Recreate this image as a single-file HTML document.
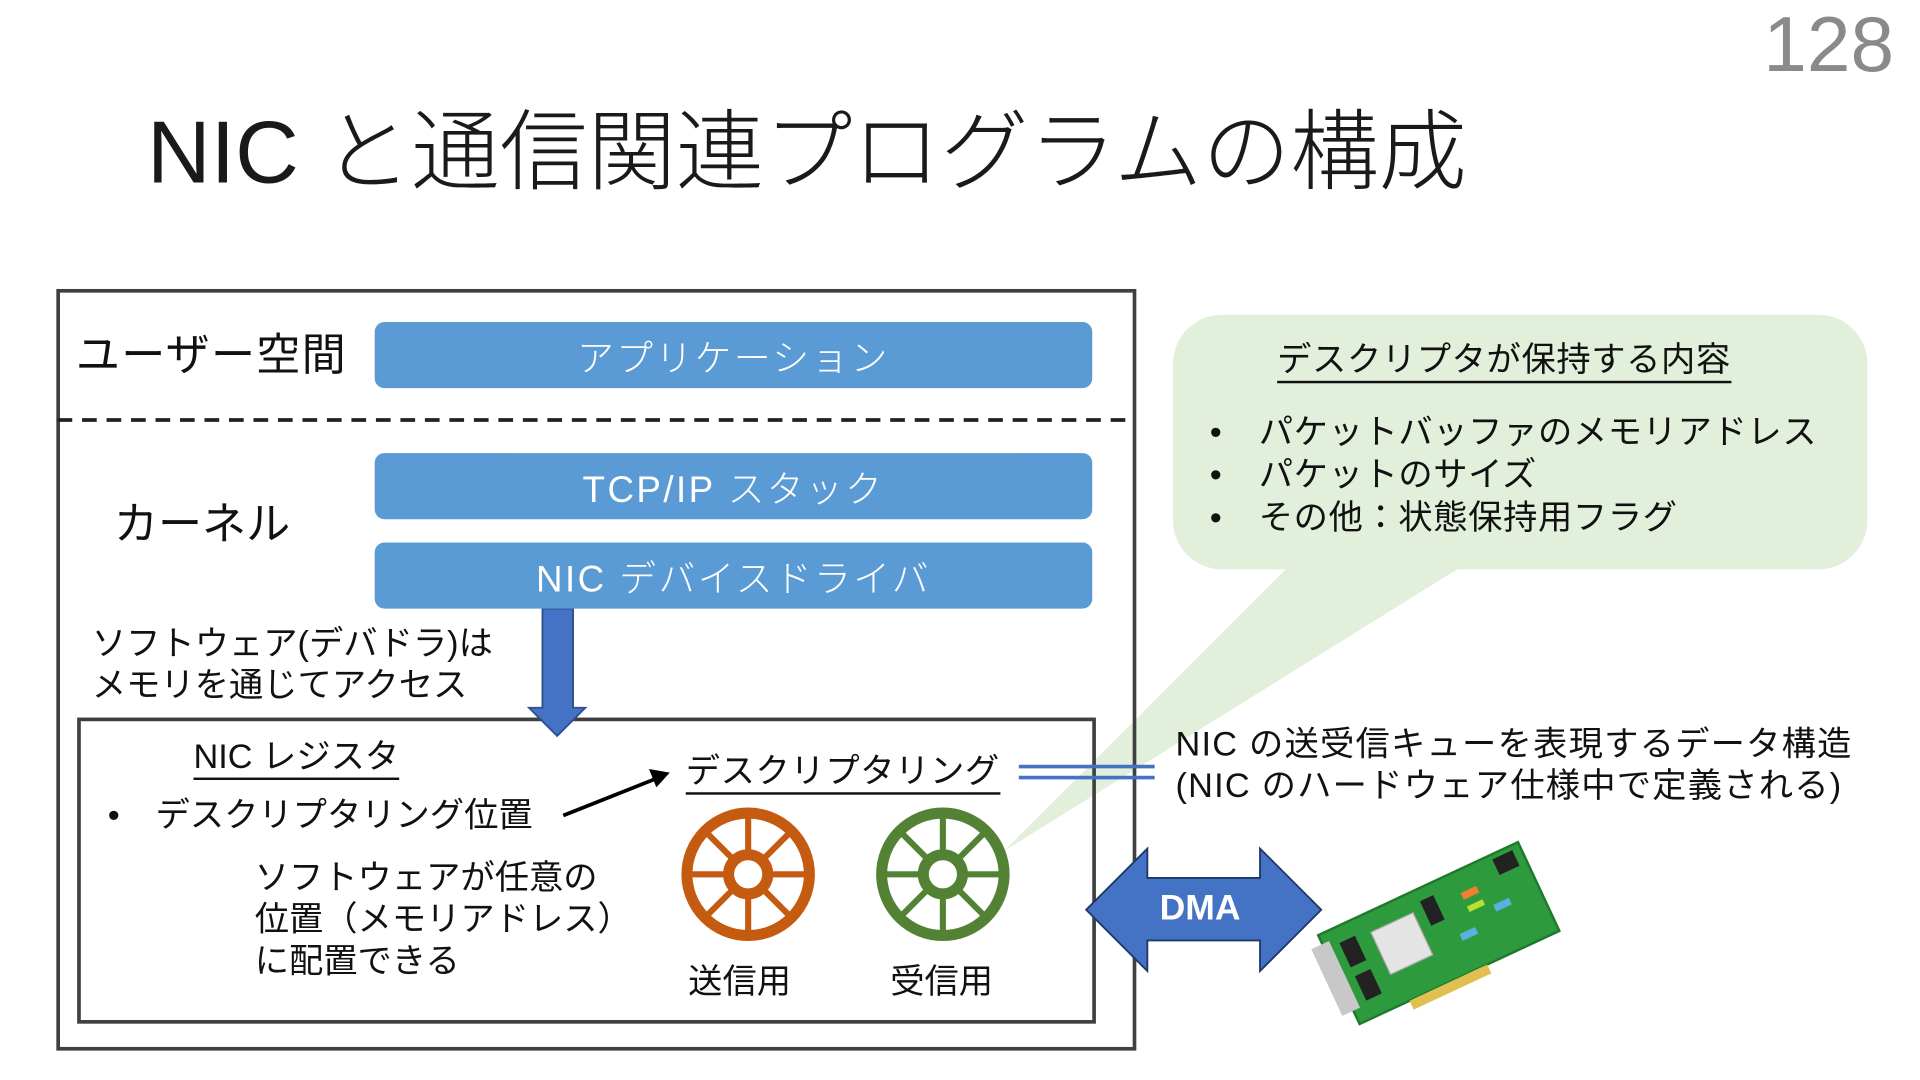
<!DOCTYPE html>
<html><head><meta charset="utf-8">
<style>
html,body{margin:0;padding:0;background:#fff;width:1920px;height:1080px;overflow:hidden}
#s{position:absolute;left:0;top:0;width:1568px;height:882px;transform:scale(1.2245);transform-origin:0 0;font-family:"Liberation Sans","Noto Sans CJK JP",sans-serif;color:#111}
.t{position:absolute;white-space:nowrap;line-height:1}
.box{position:absolute;background:#5b9bd5;border-radius:8px;color:#fff;font-size:30px;display:flex;align-items:center;justify-content:center;letter-spacing:2px;font-weight:300}
u{text-decoration:none;border-bottom:2px solid #111;padding-bottom:2px}
</style></head><body>
<div id="s">
<div class="t" style="left:1440px;top:4px;font-size:64px;color:#8a8a8a;font-weight:300">128</div>
<div class="t" style="left:120px;top:89px;font-size:72px;font-weight:300;color:#1a1a1a">NIC と通信関連プログラムの構成</div>

<svg width="1568" height="882" style="position:absolute;left:0;top:0">
 <path d="M998 257 H1485 A40 40 0 0 1 1525 297 V425 A40 40 0 0 1 1485 465 H1190 L820 695 L1050 465 H998 A40 40 0 0 1 958 425 V297 A40 40 0 0 1 998 257 Z" fill="#e2efda"/>
 <rect x="47.5" y="237.5" width="879" height="619" fill="none" stroke="#404040" stroke-width="3"/>
 <line x1="47" y1="343" x2="927" y2="343" stroke="#222" stroke-width="3" stroke-dasharray="12 8"/>
 <rect x="64.5" y="587.5" width="829" height="247" fill="none" stroke="#404040" stroke-width="3"/>
 <path d="M443 497 H468 V578 H478 L455 601 L432 578 H443 Z" fill="#4472c4" stroke="#2f4f8f" stroke-width="1.5"/>
 <line x1="460" y1="666" x2="538" y2="635" stroke="#000" stroke-width="3"/>
 <path d="M547 631 L530 628 L536 643 Z" fill="#000"/>
 <line x1="832" y1="626" x2="943" y2="626" stroke="#4472c4" stroke-width="3"/>
 <line x1="832" y1="635" x2="943" y2="635" stroke="#4472c4" stroke-width="3"/>
 <g stroke="#c55a11" fill="none" stroke-width="9">
  <circle cx="611" cy="714" r="50"/><circle cx="611" cy="714" r="16"/>
  <g stroke-width="5"><path d="M611 664V698M611 730V764M561 714H595M627 714H661M576 679L600 703M622 725L646 749M646 679L622 703M600 725L576 749"/></g>
 </g>
 <g stroke="#548235" fill="none" stroke-width="9">
  <circle cx="770" cy="714" r="50"/><circle cx="770" cy="714" r="16"/>
  <g stroke-width="5"><path d="M770 664V698M770 730V764M720 714H754M786 714H820M735 679L759 703M781 725L805 749M805 679L781 703M759 725L735 749"/></g>
 </g>
 <path d="M887 743 L937 693 V717 H1029 V693 L1079 743 L1029 793 V768 H937 V793 Z" fill="#4472c4" stroke="#203864" stroke-width="1.5"/>
 <g transform="rotate(-25 1175 762)">
  <rect x="1085" y="722" width="180" height="80" fill="#2e9a3e" stroke="#1e7a2c" stroke-width="2"/>
  <rect x="1075" y="730" width="16" height="60" fill="#c8c8c8"/>
  <rect x="1125" y="738" width="38" height="38" fill="#e4e4e4" stroke="#aaa"/>
  <rect x="1098" y="735" width="14" height="22" fill="#222"/><rect x="1098" y="765" width="14" height="22" fill="#222"/>
  <rect x="1172" y="732" width="12" height="22" fill="#222"/><rect x="1240" y="726" width="18" height="14" fill="#222"/>
  <rect x="1205" y="740" width="14" height="6" fill="#f08030"/><rect x="1205" y="752" width="14" height="5" fill="#b8e030"/>
  <rect x="1225" y="760" width="14" height="6" fill="#5ab0e0"/><rect x="1190" y="770" width="14" height="6" fill="#5ab0e0"/>
  <rect x="1130" y="802" width="70" height="8" fill="#e0c050"/>
 </g>
</svg>

<div class="t" style="left:62px;top:272px;font-size:36px;letter-spacing:1px">ユーザー空間</div>
<div class="box" style="left:306px;top:263px;width:586px;height:54px">アプリケーション</div>
<div class="t" style="left:93px;top:410px;font-size:36px">カーネル</div>
<div class="box" style="left:306px;top:370px;width:586px;height:54px">TCP/IP スタック</div>
<div class="box" style="left:306px;top:443px;width:586px;height:54px">NIC デバイスドライバ</div>
<div class="t" style="left:75px;top:509px;font-size:28px;line-height:34px">ソフトウェア(デバドラ)は<br>メモリを通じてアクセス</div>

<div class="t" style="left:158px;top:604px;font-size:28px"><u>NIC レジスタ</u></div>
<div class="t" style="left:88px;top:652px;font-size:28px">•</div>
<div class="t" style="left:127px;top:652px;font-size:28px">デスクリプタリング位置</div>
<div class="t" style="left:560px;top:616px;font-size:28px;letter-spacing:0.5px"><u>デスクリプタリング</u></div>
<div class="t" style="left:208px;top:700px;font-size:28px;line-height:34px">ソフトウェアが任意の<br>位置（メモリアドレス）<br>に配置できる</div>
<div class="t" style="left:562px;top:788px;font-size:28px">送信用</div>
<div class="t" style="left:727px;top:788px;font-size:28px">受信用</div>

<div class="t" style="left:1043px;top:280px;font-size:28px;letter-spacing:0.5px"><u>デスクリプタが保持する内容</u></div>
<div class="t" style="left:988px;top:335px;font-size:28px;line-height:35px">•<br>•<br>•</div>
<div class="t" style="left:1028px;top:335px;font-size:28px;line-height:35px;letter-spacing:0.5px">パケットバッファのメモリアドレス<br>パケットのサイズ<br>その他：状態保持用フラグ</div>

<div class="t" style="left:960px;top:591px;font-size:28px;line-height:34px;letter-spacing:1px">NIC の送受信キューを表現するデータ構造<br>(NIC のハードウェア仕様中で定義される)</div>
<div class="t" style="left:947px;top:728px;font-size:29px;font-weight:bold;color:#fff">DMA</div>
</div>
</body></html>
